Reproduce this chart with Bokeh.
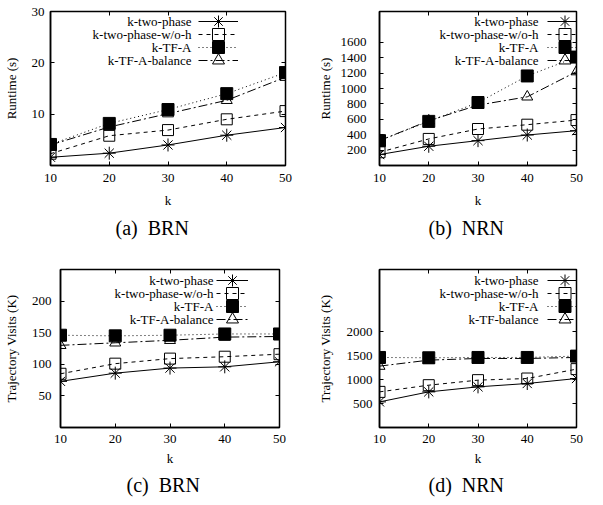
from bokeh.plotting import figure
from bokeh.models import (Range1d, FixedTicker, LinearAxis, Legend, LegendItem, Label, Title,
                          CustomLabelingPolicy)
from bokeh.layouts import column, row
from bokeh.embed import file_html
from bokeh.resources import INLINE

k = [10, 20, 30, 40, 50]
names_abc = ["k-two-phase", "k-two-phase-w/o-h", "k-TF-A", "k-TF-A-balance"]
names_d = ["k-two-phase", "k-two-phase-w/o-h", "k-TF-A", "k-TF-balance"]

brn_runtime_two_phase = [1.6, 2.4, 4.0, 5.9, 7.4]
brn_runtime_wo_h = [2.3, 5.8, 6.9, 9.0, 10.6]
brn_runtime_tfa = [4.1, 8.2, 10.9, 14.0, 18.1]
brn_runtime_balance = [4.0, 7.5, 10.1, 12.7, 17.2]

nrn_runtime_two_phase = [142, 250, 323, 396, 452]
nrn_runtime_wo_h = [172, 345, 474, 530, 590]
nrn_runtime_tfa = [323, 573, 818, 1163, 1408]
nrn_runtime_balance = [323, 581, 784, 892, 1219]

brn_visits_two_phase = [73, 86, 94, 96, 104]
brn_visits_wo_h = [85, 101, 109, 112, 116]
brn_visits_tfa = [146, 145, 146, 148, 148]
brn_visits_balance = [130, 134, 138, 143, 144]

nrn_visits_two_phase = [535, 744, 849, 919, 1023]
nrn_visits_wo_h = [744, 884, 989, 1023, 1219]
nrn_visits_tfa = [1463, 1456, 1463, 1463, 1491]
nrn_visits_balance = [1282, 1407, 1442, 1442, 1463]

y_ticks_a = [10, 20, 30]
y_ticks_b = [200, 400, 600, 800, 1000, 1200, 1400, 1600]
y_ticks_c = [50, 100, 150, 200]
y_ticks_d = [500, 1000, 1500, 2000]

FONT = "Liberation Serif"
STYLES = [
    dict(dash="solid", marker="asterisk", size=13, fill_alpha=0.0),
    dict(dash="4 4", marker="square", size=11, fill_alpha=0.0),
    dict(dash="1 3", marker="square", size=12, fill_alpha=1.0),
    dict(dash="9 3 2 3", marker="triangle", size=11, fill_alpha=0.0),
]

NO_LABELS = CustomLabelingPolicy(code="for (const i of indices) { indices.unset(i) } return indices")


def make_panel(series, names, ymax, yticks, ylabel, caption, width, height,
               b_left, b_right, b_top, b_bottom, ylab_standoff, yaxis_standoff,
               xtick_standoff, xlab_standoff, leg_x, leg_gw, text_x, cap_offset, cap_standoff):
    p = figure(width=width, height=height, output_backend="svg", toolbar_location=None,
               tools="", x_range=Range1d(10, 50), y_range=Range1d(0, ymax),
               min_border_left=b_left, min_border_right=b_right,
               min_border_top=b_top, min_border_bottom=b_bottom)
    p.background_fill_color = "white"
    p.border_fill_color = "white"
    p.outline_line_color = "black"
    p.outline_line_width = 1.5
    p.grid.visible = False

    for ax in (p.xaxis[0], p.yaxis[0]):
        ax.major_tick_in = 4
        ax.major_tick_out = 0
        ax.minor_tick_line_color = None
        ax.axis_line_color = "black"
        ax.axis_line_width = 1.5
        ax.major_tick_line_color = "black"
        ax.major_label_text_font = FONT
        ax.major_label_text_font_size = "13px"
        ax.major_label_text_color = "black"
        ax.axis_label_text_font = FONT
        ax.axis_label_text_font_size = "13px"
        ax.axis_label_text_font_style = "normal"
        ax.axis_label_text_color = "black"
    p.xaxis[0].ticker = FixedTicker(ticks=k)
    p.yaxis[0].ticker = FixedTicker(ticks=yticks)
    p.xaxis[0].axis_label = "k"
    p.yaxis[0].axis_label = ylabel
    p.xaxis[0].major_label_standoff = xtick_standoff
    p.xaxis[0].axis_label_standoff = xlab_standoff
    p.yaxis[0].major_label_standoff = yaxis_standoff
    p.yaxis[0].axis_label_standoff = ylab_standoff

    top = LinearAxis(ticker=FixedTicker(ticks=k), major_label_policy=NO_LABELS,
                     major_tick_in=4, major_tick_out=0, axis_line_color=None,
                     major_label_standoff=0, minor_tick_line_color=None)
    right = LinearAxis(ticker=FixedTicker(ticks=yticks), major_label_policy=NO_LABELS,
                       major_tick_in=4, major_tick_out=0, axis_line_color=None,
                       major_label_standoff=0, minor_tick_line_color=None)
    p.add_layout(top, "above")
    p.add_layout(right, "right")

    p.add_layout(Title(text=caption, align="left", offset=cap_offset, standoff=cap_standoff,
                       text_font=FONT, text_font_size="20px", text_font_style="normal",
                       text_color="black"), "below")

    H = height - b_top - b_bottom
    for i, (vals, st) in enumerate(zip(series, STYLES)):
        lr = p.line(k, vals, line_color="black", line_width=1, line_dash=st["dash"])
        sr = p.scatter(k, vals, marker=st["marker"], size=st["size"], line_color="black",
                       line_width=1, fill_color="black", fill_alpha=st["fill_alpha"])
        leg = Legend(items=[LegendItem(label="", renderers=[lr, sr])],
                     location=(leg_x, H - 25.5 - 13 * i), glyph_width=leg_gw,
                     glyph_height=30, label_height=30, label_width=0, label_standoff=0,
                     padding=0, margin=0, spacing=0, border_line_color=None,
                     background_fill_alpha=0.0, label_text_font_size="10px")
        p.add_layout(leg)

    for i, nm in enumerate(names):
        p.add_layout(Label(x=text_x, y=H - 10.5 - 13 * i, x_units="screen", y_units="screen",
                           text=nm, text_align="right", text_baseline="middle",
                           text_font=FONT, text_font_size="13px", text_color="black"))
    return p


pa = make_panel([brn_runtime_two_phase, brn_runtime_wo_h, brn_runtime_tfa, brn_runtime_balance],
                names_abc, 30, y_ticks_a, "Runtime (s)", "(a)\u00a0 BRN", 300, 250,
                50, 15, 10, 85, 10, 6, 8, 8, 148, 40, 141, 65, 9)
pb = make_panel([nrn_runtime_two_phase, nrn_runtime_wo_h, nrn_runtime_tfa, nrn_runtime_balance],
                names_abc, 2000, y_ticks_b, "Runtime (s)", "(b)\u00a0 NRN", 303, 250,
                79, 5, 10, 85, 5, 13, 8, 8, 168, 35, 159, 49, 9)
pc = make_panel([brn_visits_two_phase, brn_visits_wo_h, brn_visits_tfa, brn_visits_balance],
                names_abc, 250, y_ticks_c, "Trajectory Visits (K)", "(c)\u00a0 BRN", 300, 255,
                59, 15, 19, 78, 10, 9, 7, 5, 156, 32, 153, 66, 6)
pd_ = make_panel([nrn_visits_two_phase, nrn_visits_wo_h, nrn_visits_tfa, nrn_visits_balance],
                 names_d, 3300, y_ticks_d, "Trajectory Visits (K)", "(d)\u00a0 NRN", 303, 255,
                 79, 5, 19, 78, 11, 7, 7, 5, 168, 35, 159, 49, 6)

layout = column(row(pa, pb), row(pc, pd_))
open("out.html", "w").write(file_html(layout, INLINE))
